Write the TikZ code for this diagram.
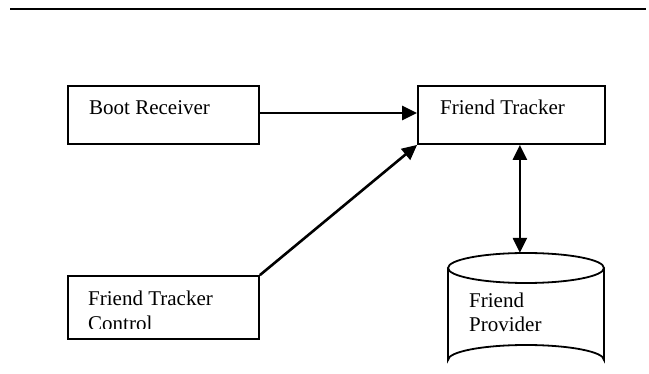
\documentclass[tikz,border=0pt]{standalone}
\usepackage{fontspec}
\setmainfont{Liberation Serif}
\usetikzlibrary{arrows.meta}
\begin{document}
\begin{tikzpicture}[x=1pt,y=-1pt,
  box/.style={draw, line width=1.8pt, inner sep=0pt},
  txt/.style={inner sep=0pt, anchor=base west, align=left,
    font=\fontsize{21}{24.5}\selectfont},
  link/.style={line width=2.6pt, -{Triangle[length=15pt,width=14pt]}},
  twoway/.style={line width=2.6pt, {Triangle[length=15pt,width=14pt]}-{Triangle[length=15pt,width=14pt]}}]
\useasboundingbox (0,0) rectangle (649,374);
\clip (0,0) rectangle (649,374);

% header rule
\draw[line width=2.8pt] (10,9) -- (646,9);

% boxes
\node[box, minimum width=191pt, minimum height=58pt] (boot) at (163.5,115) {};
\node[box, minimum width=187pt, minimum height=58pt] (ft) at (511.5,115) {};
\node[box, minimum width=191pt, minimum height=63pt] (ctrl) at (163.5,307.5) {};
\node[inner sep=0pt, minimum width=156pt, minimum height=122pt] (prov) at (526,314) {};

% data store drawn as a cylinder
\draw[line width=1.8pt] (526,268) ellipse [x radius=78, y radius=15];
\draw[line width=1.8pt]
  (448,268) -- (448,360) arc [start angle=180, end angle=360, x radius=78, y radius=15] -- (604,268);

% labels (anchored at the baseline of the last line)
\node[txt] (bootlbl) at (89,115) {Boot Receiver};
\node[txt] (ftlbl) at (440,115) {Friend Tracker};
\begin{scope}
  \clip (60,280) rectangle (260,328.5);
  \node[txt] (ctrllbl) at (88,330.5) {Friend Tracker\\Control};
\end{scope}
\node[txt] (provlbl) at (469,332) {Friend\\Provider};

% connectors
\draw[link] ([yshift=2pt]boot.east) -- ([yshift=2pt]boot.east -| ft.west);
\draw[link] (ctrl.north east) -- (ft.south west);
\draw[twoway] ([xshift=-86pt]ft.south east) -- ([xshift=-86pt]ft.south east |- prov.north);
\end{tikzpicture}
\end{document}
